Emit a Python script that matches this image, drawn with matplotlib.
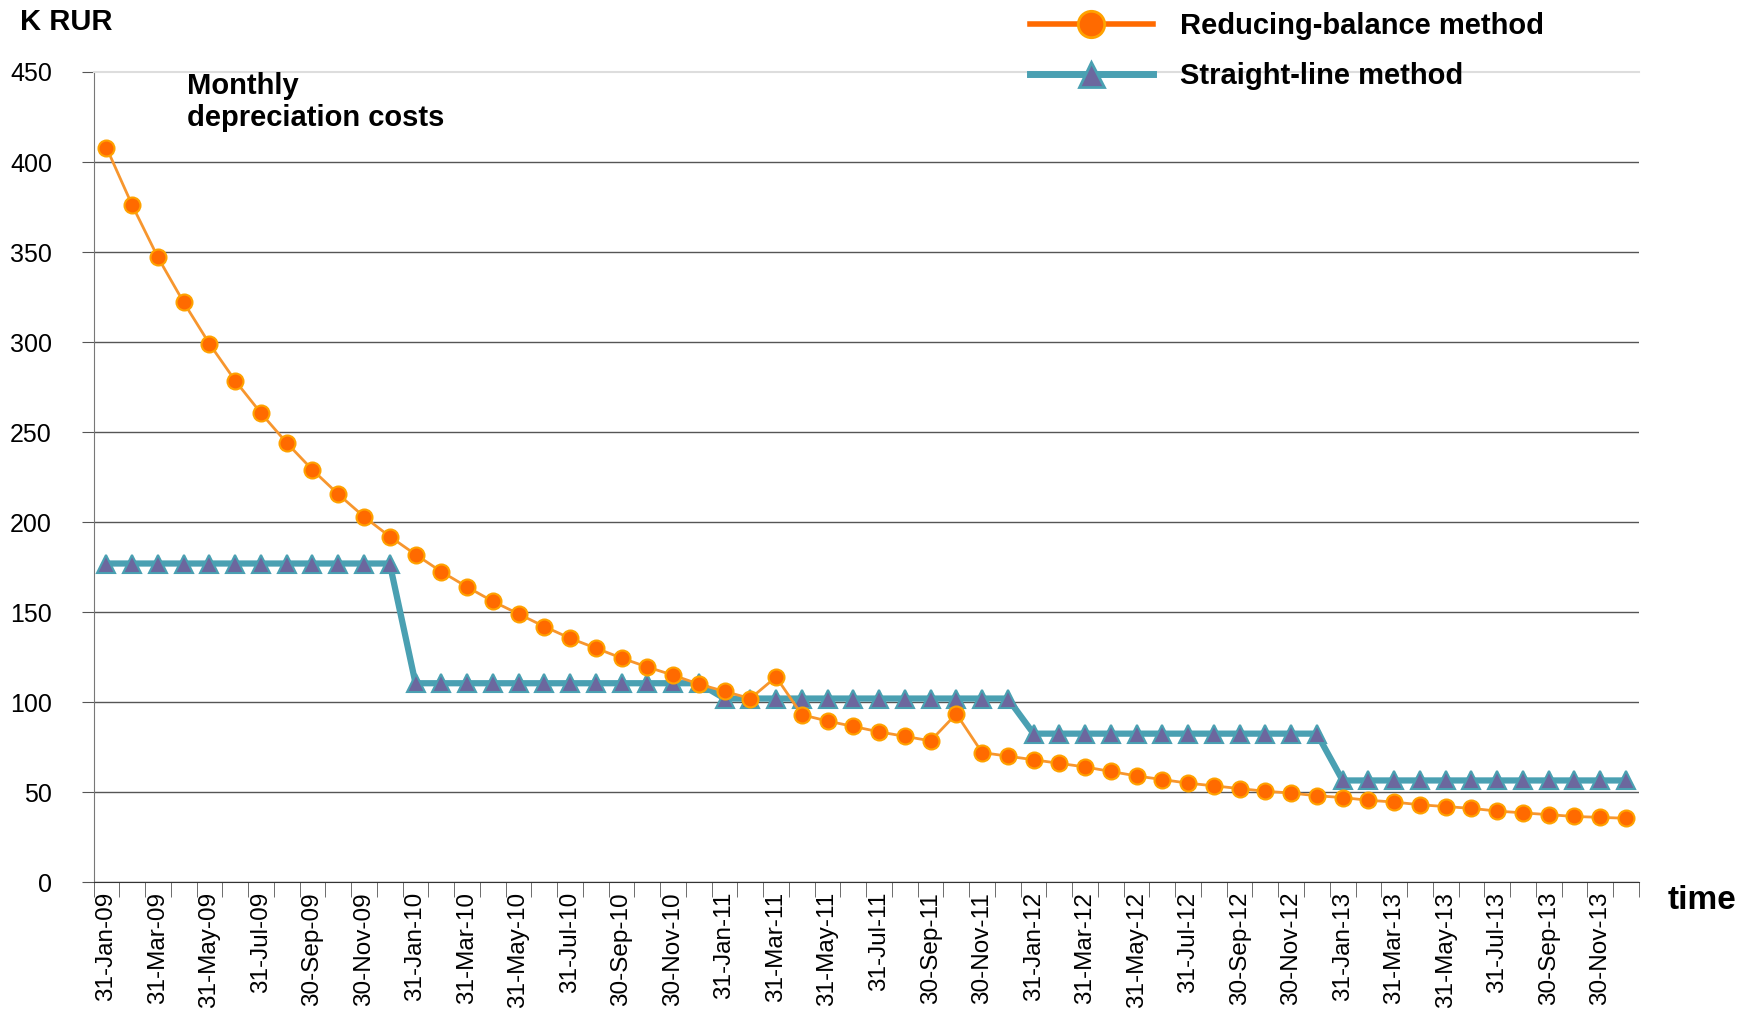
import matplotlib.pyplot as plt
from matplotlib.lines import Line2D
import numpy as np

# Monthly depreciation costs, K RUR, Jan-09 .. Dec-13
reducing_balance = [408, 376, 347, 322, 299, 278.5, 260.5, 244, 229, 215.5,
                    203, 192, 182, 172.5, 164, 156, 149, 142, 135.5, 130,
                    124.5, 119.5, 115, 110, 106, 102, 114, 93, 89.5, 86.5,
                    83.5, 81, 78.5, 93.5, 72, 70, 68, 66, 64, 61.5,
                    59, 57, 55, 53.5, 52, 50.5, 49.5, 48, 47, 45.5,
                    44.5, 43, 42, 41, 39.5, 38.5, 37.5, 36.5, 36, 35.5]
straight_line = [177] * 12 + [110.5] * 12 + [102] * 12 + [82.5] * 12 + [56.5] * 12

months = ['Jan', 'Mar', 'May', 'Jul', 'Sep', 'Nov']
days = ['31', '31', '31', '31', '30', '30']
years = ['09', '10', '11', '12', '13']
tick_labels = [f'{d}-{m}-{y}' for y in years for d, m in zip(days, months)]

y_ticks = [0, 50, 100, 150, 200, 250, 300, 350, 400, 450]

plt.rcParams['font.family'] = ['Liberation Sans', 'DejaVu Sans']

orange_line = '#F7962E'
orange_face = '#FF6A00'
orange_edge = '#FFA200'
teal = '#4AA0B2'
purple = '#6C679E'

fig = plt.figure(figsize=(17.46, 10.14), dpi=100)
ax = fig.add_axes([0.0536, 0.130, 0.885, 0.799])

x = np.arange(len(reducing_balance))
ax.plot(x, straight_line, color=teal, lw=4.5, marker='^', ms=12.5,
        mfc=purple, mec=teal, mew=1.5, zorder=3)
ax.plot(x, reducing_balance, color=orange_line, lw=2, marker='o', ms=11.5,
        mfc=orange_face, mec=orange_edge, mew=1.5, zorder=4)

ax.set_xlim(-0.5, len(x) - 0.5)
ax.set_ylim(0, 450)
ax.set_yticks(y_ticks)
ax.set_yticklabels([str(v) for v in y_ticks], fontsize=18)

ax.set_xticks(x[::2])
ax.set_xticklabels(tick_labels, rotation=90, fontsize=17.5)
ax.set_xticks(np.arange(len(x) + 1) - 0.5, minor=True)
ax.tick_params(axis='x', which='major', length=0, pad=7)
ax.tick_params(axis='x', which='minor', length=11, color='#555555', direction='out')
ax.tick_params(axis='y', length=9, color='#555555', pad=21)

ax.yaxis.grid(True, color='#555555', lw=1)
ax.set_axisbelow(True)
ax.get_ygridlines()[-1].set_visible(False)
ax.spines['right'].set_visible(False)
ax.spines['top'].set_color('#dddddd')
ax.spines['top'].set_linewidth(1.5)
ax.spines['left'].set_color('#777777')
ax.spines['bottom'].set_color('#333333')

fig.text(0.0115, 0.978, 'K RUR', fontsize=21, fontweight='bold', va='center')
ax.text(0.0605, 1.0, 'Monthly\ndepreciation costs', transform=ax.transAxes,
        fontsize=21, fontweight='bold', va='top', linespacing=1.2)
fig.text(0.955, 0.112, 'time', fontsize=24, fontweight='bold', va='center')

handles = [
    Line2D([], [], color='#FF6A00', lw=4, marker='o', ms=19, mfc=orange_face,
           mec=orange_edge, mew=2),
    Line2D([], [], color=teal, lw=5, marker='^', ms=18, mfc=purple,
           mec=teal, mew=2),
]
fig.legend(handles, ['Reducing-balance method', 'Straight-line method'],
           loc='upper left', bbox_to_anchor=(0.575, 1.014), frameon=False,
           prop={'size': 21, 'weight': 'bold'},
           handlelength=4.2, handletextpad=0.95, labelspacing=0.75)

fig.savefig('out.png', dpi=100)
